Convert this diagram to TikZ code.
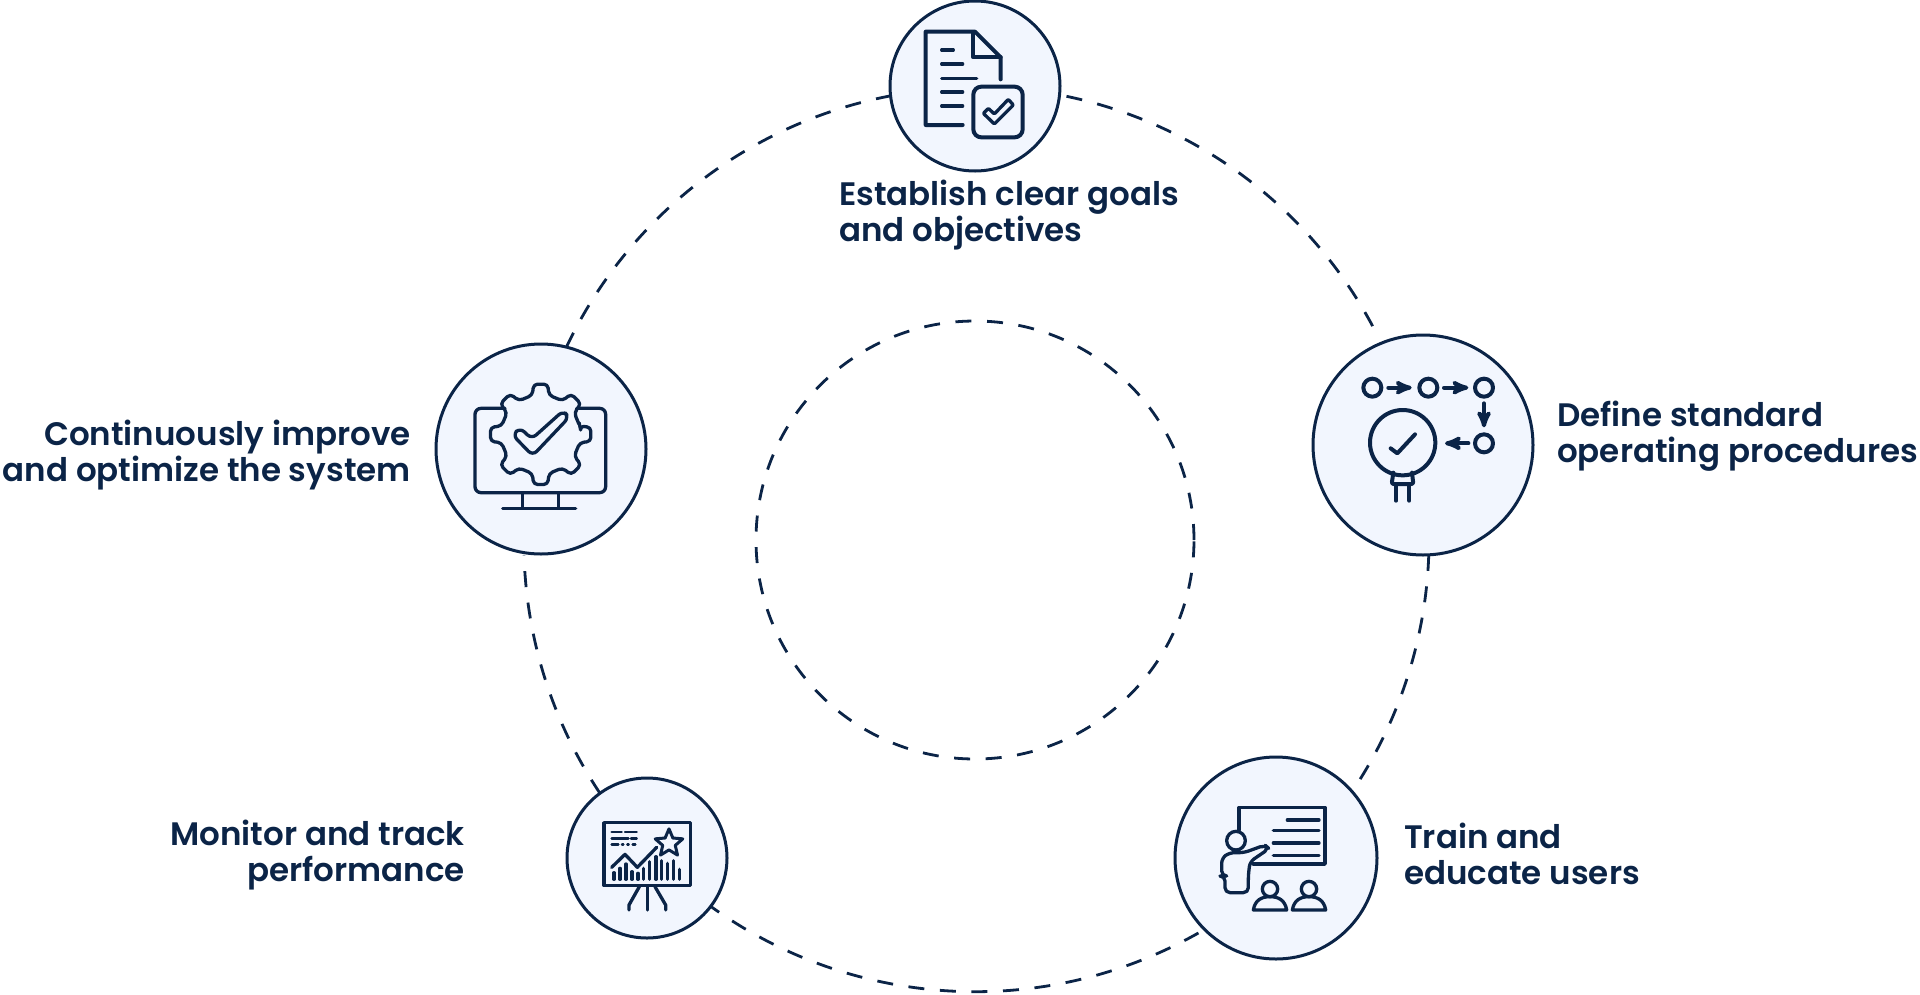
\documentclass[tikz,border=0pt]{standalone}
\usepackage{fontspec}
\setmainfont{Poppins}
\newfontfamily\tagfont{Poppins SemiBold}
\usetikzlibrary{positioning, arrows, shapes.geometric}
\definecolor{navy}{HTML}{0B2447}
\definecolor{pale}{HTML}{F2F6FE}
\tikzset {
    stepnode/.style={circle, draw=navy, line width=3pt, fill=pale, inner sep=0pt, outer sep=0pt},
    steptag/.style={text=navy, font=\tagfont\fontsize{32.5}{36}\selectfont, inner sep=0pt},
    dashlink/.style={draw=navy, line width=2.8pt, dash pattern=on 16pt off 15.6pt},
    gapstart/.style={dash phase=24.5pt},
    icon/.style={draw=navy, line width=#1, line cap=round, line join=round},
    icon/.default=3.3pt,
    >=stealth'
}

\begin{document}
\begin{tikzpicture}[x=1pt, y=-1pt]
    \useasboundingbox (0,0) rectangle (1920,994);

    \node[draw=none, minimum size=438pt, circle, dashlink] (hub) at (975,540) {};

    \node[stepnode, minimum size=170pt] (goals) at (975,86) {};
    \node[stepnode, minimum size=220pt] (sop) at (1423,445) {};
    \node[stepnode, minimum size=202pt] (train) at (1276,858) {};
    \node[stepnode, minimum size=160pt] (monitor) at (647,858) {};
    \node[stepnode, minimum size=210pt] (improve) at (541,449) {};

    \draw[dashlink, gapstart] (goals.-6) arc[start angle=79, end angle=27.4, radius=453pt];
    \draw[dashlink] (sop.-87.6) arc[start angle=-2, end angle=-33.6, radius=453pt];
    \draw[dashlink, gapstart] (train.225.4) arc[start angle=-59.6, end angle=-125.9, radius=453pt];
    \draw[dashlink] (monitor.126) arc[start angle=-146.3, end angle=-178.3, radius=453pt];
    \draw[dashlink] (improve.76.6) arc[start angle=154.7, end angle=100.9, radius=453pt];

    \node[steptag, align=left, below=9pt of goals, xshift=34pt] (goalstag) {Establish clear goals\\and objectives};
    \node[steptag, align=left, right=24pt of sop, yshift=9pt] (soptag) {Define standard\\operating procedures};
    \node[steptag, align=left, right=27pt of train, yshift=4pt] (traintag) {Train and\\educate users};
    \node[steptag, align=right, left=102pt of monitor, yshift=3pt] (monitortag) {Monitor and track\\performance};
    \node[steptag, align=right, left=25pt of improve, yshift=-6pt] (improvetag) {Continuously improve\\and optimize the system};

    % document
    \begin{scope}[shift={(860,0)}, scale=1/3]
        \draw[icon=4pt] (308,375) -- (197,375) -- (197,95) -- (345,95) -- (422,172) -- (422,238);
        \draw[icon=4pt] (340,100) -- (340,172) -- (422,172);
        \foreach \ly/\lx in {150/280, 192/308, 235/350, 276/308, 318/308}
            \draw[icon] (245,\ly) -- (\lx,\ly);
        \draw[icon=4pt, rounded corners=8pt] (340,260) rectangle (488,412);
        \draw[icon, rounded corners=1pt] (370,340) -- (385,325) -- (403,342) -- (445,298) -- (460,315) -- (403,372) -- cycle;
    \end{scope}

    % flow and gauge
    \begin{scope}[shift={(1300,340)}, scale=1/3]
        \foreach \cx/\cy in {217/143, 385/143, 552/143, 552/310}
            \draw[icon=4pt] (\cx,\cy) circle[radius=27];
        \draw[icon=4pt, ->] (265,143) -- (335,143);
        \draw[icon=4pt, ->] (432,143) -- (505,143);
        \draw[icon=4pt, ->] (552,190) -- (552,262);
        \draw[icon=4pt, ->] (505,310) -- (435,310);
        \draw[icon=4pt] (308,308) circle[radius=98];
        \draw[icon=4pt] (272,325) -- (292,340) -- (345,283);
        \draw[icon=4pt, rounded corners=2pt] (280,398) -- (275,432) -- (340,432) -- (336,398);
        \draw[icon=4pt] (288,432) -- (288,482);
        \draw[icon=4pt] (328,432) -- (328,482);
    \end{scope}

    % teacher and board
    \begin{scope}[shift={(1170,750)}, scale=1/3]
        \draw[icon] (207,240) -- (207,172) -- (465,172) -- (465,342) -- (250,342);
        \draw[icon] (352,210) -- (447,210);
        \foreach \ly in {242,279,316}
            \draw[icon] (310,\ly) -- (447,\ly);
        \draw[icon, fill=pale] (198,272) circle[radius=28];
        \draw[icon, rounded corners=5pt] (155,378) -- (155,325) -- (178,308) -- (222,308) -- (285,285) -- (297,296) -- (240,335) -- (235,375) -- (235,428) -- (165,428) -- (165,378) -- cycle;
        \foreach \hx in {300,417} {
            \draw[icon] (\hx,417) circle[radius=23];
            \draw[icon] (\hx-50,480) .. controls (\hx-45,450) and (\hx-25,440) .. (\hx,440) .. controls (\hx+25,440) and (\hx+45,450) .. (\hx+50,480) -- cycle;
        }
    \end{scope}

    % chart on stand
    \begin{scope}[shift={(560,770)}, scale=1/3]
        \draw[icon] (132,158) rectangle (392,347);
        \draw[icon] (262,347) -- (262,420);
        \draw[icon] (238,350) -- (207,405) -- (207,420);
        \draw[icon] (285,350) -- (317,405) -- (317,420);
        \draw[icon=2.5pt] (155,186) -- (185,186) (195,186) -- (230,186);
        \draw[icon=2.5pt] (155,205) -- (205,205) (213,205) -- (230,205);
        \draw[icon=2.5pt] (155,224) -- (175,224) (186,224) -- (190,224) (202,224) -- (206,224) (218,224) -- (226,224);
        \node[star, star points=5, star point ratio=2.2, draw=navy, line width=3pt, line join=round, minimum size=29pt, inner sep=0pt] (chartstar) at (327,220) {};
        \draw[icon] (155,292) -- (195,253) -- (232,292) -- (290,232);
        \foreach \bx/\by in {162/308, 180/295, 198/282, 216/305, 234/310, 250/295, 268/275, 288/260, 305/272, 322/280, 340/272, 358/298}
            \draw[icon] (\bx,\by) -- (\bx,328);
    \end{scope}

    % gear on monitor
    \begin{scope}[shift={(430,340)}, scale=1/3]
        \draw[icon, rounded corners=6pt] (225,205) -- (135,205) -- (135,458) -- (527,458) -- (527,205) -- (440,205);
        \draw[icon] (277,458) -- (277,505) (385,458) -- (385,505) (218,505) -- (437,505);
        \draw[icon, rounded corners=4pt, shift={(332,283)}] (-11:120)
            \foreach \ga in {0,45,...,315} {
                -- (\ga-12:120) -- (\ga-8:152) -- (\ga+8:152) -- (\ga+12:120)
            } -- cycle;
        \draw[icon, rounded corners=6pt] (248,285) -- (270,263) -- (305,297) -- (400,212) -- (417,232) -- (308,347) -- cycle;
    \end{scope}
\end{tikzpicture}
\end{document}
